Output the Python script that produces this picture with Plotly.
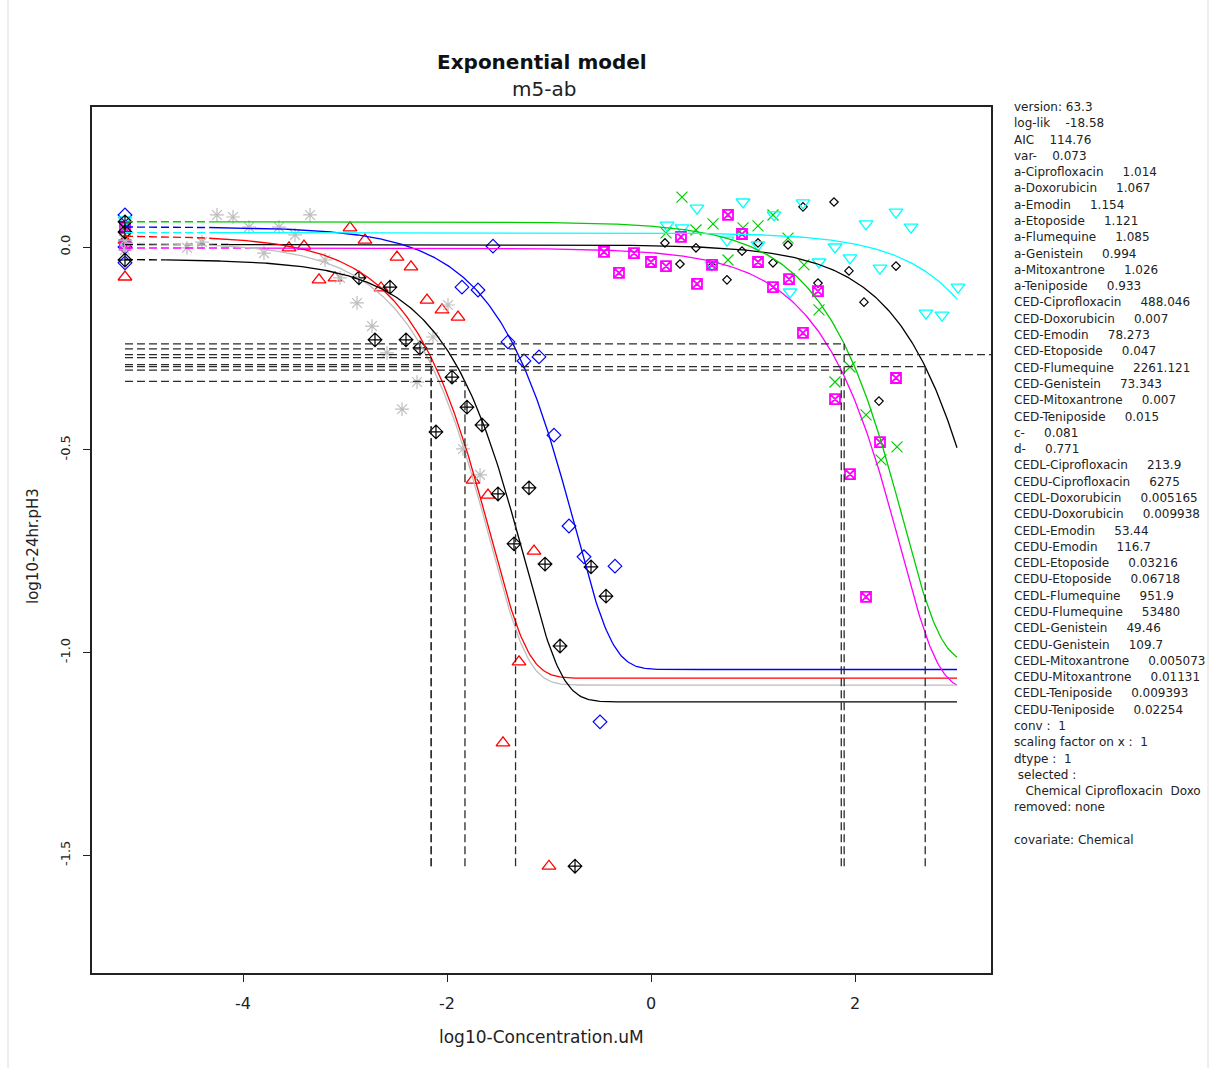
import numpy as np
import plotly.graph_objects as go

# ---------------------------------------------------------------------------
# Fitted exponential model m5-ab (PROAST style):  y = a * (c - (c-1) * exp(-b * x^d))
# plotted on log10 scales for dose and response.
# ---------------------------------------------------------------------------
chemicals = ["Ciprofloxacin", "Doxorubicin", "Emodin", "Etoposide",
             "Flumequine", "Genistein", "Mitoxantrone", "Teniposide"]
a_par = [1.014, 1.067, 1.154, 1.121, 1.085, 0.994, 1.026, 0.933]
ced_par = [488.046, 0.007, 78.273, 0.047, 2261.121, 73.343, 0.007, 0.015]
c_par = 0.081
d_par = 0.771
ces = -0.5                      # critical effect size (50 % decrease)

ctrl_pos = -5.157               # plotting position of the zero-dose group
curve_end = 3.0                 # highest tested log10 concentration
dash_end = [-4.14, -4.33, -4.33, -4.33, -4.33, -3.94, -4.33, -4.76]

# observations: log10 concentration and log10 response per chemical
cipro_x = [0.137, 0.284, 0.441, 0.598, 0.745, 0.892, 1.049, 1.196, 1.343, 1.490,
           1.637, 1.794, 1.941, 2.088, 2.235, 2.402]
cipro_y = [0.010, -0.042, -0.002, -0.047, -0.081, -0.010, 0.010, -0.039, 0.005, 0.099,
           -0.089, 0.111, -0.059, -0.136, -0.380, -0.047]
cipro_ctrl = [0.0, 0.017]

doxo_x = [-3.549, -3.402, -3.255, -3.098, -2.951, -2.804, -2.647, -2.490, -2.353,
          -2.196, -2.049, -1.892, -1.745, -1.598, -1.451, -1.294, -1.147, -1.000]
doxo_y = [-0.002, 0.002, -0.081, -0.076, 0.047, 0.017, -0.101, -0.025, -0.049,
          -0.131, -0.155, -0.173, -0.575, -0.612, -1.223, -1.023, -0.750, -1.527]
doxo_ctrl = [-0.074, 0.017]

emodin_x = [0.147, 0.304, 0.441, 0.608, 0.755, 0.902, 1.049, 1.196, 1.343, 1.500,
            1.647, 1.804, 1.951, 2.108, 2.255, 2.412]
emodin_y = [0.035, 0.123, 0.042, 0.057, -0.032, 0.047, 0.052, 0.079, 0.022, -0.044,
            -0.155, -0.333, -0.296, -0.414, -0.525, -0.493]
emodin_ctrl = [0.054, 0.042]

etopo_x = [-1.853, -1.696, -1.549, -1.402, -1.245, -1.098, -0.951, -0.804, -0.657,
           -0.500, -0.353]
etopo_y = [-0.099, -0.106, 0.002, -0.234, -0.281, -0.271, -0.464, -0.688, -0.764,
           -1.171, -0.787]
etopo_ctrl = [0.079, 0.0, -0.039]

flume_x = [0.157, 0.304, 0.451, 0.598, 0.745, 0.902, 1.049, 1.206, 1.363, 1.490,
           1.647, 1.804, 1.951, 2.108, 2.245, 2.402, 2.549, 2.696, 2.853, 3.010]
flume_y = [0.054, 0.047, 0.096, -0.044, 0.017, 0.111, 0.005, 0.079, -0.111, 0.109,
           -0.037, 0.0, -0.027, 0.057, -0.052, 0.086, 0.049, -0.163, -0.168, -0.099]
flume_ctrl = [0.067, 0.010]

genis_x = [-0.461, -0.314, -0.167, 0.0, 0.147, 0.294, 0.451, 0.598, 0.755, 0.892,
           1.049, 1.196, 1.353, 1.490, 1.637, 1.804, 1.951, 2.108, 2.245, 2.402]
genis_y = [-0.012, -0.064, -0.015, -0.037, -0.047, 0.025, -0.091, -0.044, 0.079, 0.032,
           -0.037, -0.099, -0.079, -0.212, -0.109, -0.375, -0.560, -0.863, -0.481, -0.323]
genis_ctrl = [0.047, 0.005]

mitox_x = [-4.549, -4.402, -4.255, -4.098, -3.941, -3.794, -3.647, -3.490, -3.343,
           -3.196, -3.049, -2.882, -2.735, -2.588, -2.441, -2.294, -2.137, -1.990,
           -1.843, -1.676]
mitox_y = [-0.002, 0.012, 0.079, 0.074, 0.049, -0.015, 0.049, 0.030, 0.079,
           -0.032, -0.076, -0.138, -0.195, -0.261, -0.400, -0.333, -0.222, -0.143,
           -0.498, -0.562]
mitox_ctrl = [0.017, -0.007]

tenip_x = [-2.863, -2.706, -2.559, -2.402, -2.265, -2.108, -1.951, -1.804, -1.657,
           -1.500, -1.343, -1.196, -1.039, -0.892, -0.745, -0.588, -0.441]
tenip_y = [-0.076, -0.229, -0.099, -0.229, -0.249, -0.456, -0.321, -0.395, -0.439,
           -0.609, -0.732, -0.594, -0.782, -0.984, -1.527, -0.789, -0.861]
tenip_ctrl = [0.062, 0.037, -0.032]

obs_x = [cipro_x, doxo_x, emodin_x, etopo_x, flume_x, genis_x, mitox_x, tenip_x]
obs_y = [cipro_y, doxo_y, emodin_y, etopo_y, flume_y, genis_y, mitox_y, tenip_y]
obs_ctrl = [cipro_ctrl, doxo_ctrl, emodin_ctrl, etopo_ctrl, flume_ctrl, genis_ctrl,
            mitox_ctrl, tenip_ctrl]

colors = ["#000000", "#FF0000", "#00CD00", "#0000FF", "#00FFFF", "#FF00FF",
          "#BEBEBE", "#000000"]
symbols = ["diamond-open", "triangle-up-open", "x-thin-open", "diamond-open",
           "triangle-down-open", "square-x-open", "asterisk-open", "diamond-cross-open"]
sizes = [6.5, 12, 11, 10.5, 12, 10, 11.5, 10.5]
widths = [1.2, 1.3, 1.2, 1.2, 1.3, 1.8, 1.2, 1.2]

x_ticks = [-4, -2, 0, 2]
x_ticktext = ["-4", "-2", "0", "2"]
y_ticks = [0.0, -0.5, -1.0, -1.5]
y_ticktext = ["0.0", "-0.5", "-1.0", "-1.5"]

info_lines = [
    "version: 63.3",
    "log-lik    -18.58",
    "AIC    114.76",
    "var-    0.073",
    "a-Ciprofloxacin     1.014",
    "a-Doxorubicin     1.067",
    "a-Emodin     1.154",
    "a-Etoposide     1.121",
    "a-Flumequine     1.085",
    "a-Genistein     0.994",
    "a-Mitoxantrone     1.026",
    "a-Teniposide     0.933",
    "CED-Ciprofloxacin     488.046",
    "CED-Doxorubicin     0.007",
    "CED-Emodin     78.273",
    "CED-Etoposide     0.047",
    "CED-Flumequine     2261.121",
    "CED-Genistein     73.343",
    "CED-Mitoxantrone     0.007",
    "CED-Teniposide     0.015",
    "c-     0.081",
    "d-     0.771",
    "CEDL-Ciprofloxacin     213.9",
    "CEDU-Ciprofloxacin     6275",
    "CEDL-Doxorubicin     0.005165",
    "CEDU-Doxorubicin     0.009938",
    "CEDL-Emodin     53.44",
    "CEDU-Emodin     116.7",
    "CEDL-Etoposide     0.03216",
    "CEDU-Etoposide     0.06718",
    "CEDL-Flumequine     951.9",
    "CEDU-Flumequine     53480",
    "CEDL-Genistein     49.46",
    "CEDU-Genistein     109.7",
    "CEDL-Mitoxantrone     0.005073",
    "CEDU-Mitoxantrone     0.01131",
    "CEDL-Teniposide     0.009393",
    "CEDU-Teniposide     0.02254",
    "conv :  1",
    "scaling factor on x :  1",
    "dtype :  1",
    " selected :",
    "   Chemical Ciprofloxacin  Doxo",
    "removed: none",
    "",
    "covariate: Chemical",
]

FONT = "DejaVu Sans"


def model_log10(xlog, a, ced):
    """log10 response of the m5 exponential model at log10 concentration xlog."""
    dose = 10.0 ** np.asarray(xlog)
    b = -np.log((1 + ces - c_par) / (1 - c_par)) / ced ** d_par
    return np.log10(a) + np.log10(c_par - (c_par - 1) * np.exp(-b * dose ** d_par))


fig = go.Figure()

# observations
for i, name in enumerate(chemicals):
    xs = [ctrl_pos] * len(obs_ctrl[i]) + obs_x[i]
    ys = obs_ctrl[i] + obs_y[i]
    fig.add_trace(go.Scatter(
        x=xs, y=ys, mode="markers", name=name, showlegend=False,
        marker=dict(symbol=symbols[i], size=sizes[i], color=colors[i],
                    line=dict(color=colors[i], width=widths[i])),
    ))

# fitted curves: dashed from the zero-dose position, solid over the tested range
for i, name in enumerate(chemicals):
    xd = np.linspace(ctrl_pos, dash_end[i], 40)
    xs = np.linspace(dash_end[i], curve_end, 500)
    fig.add_trace(go.Scatter(
        x=xd, y=model_log10(xd, a_par[i], ced_par[i]), mode="lines", showlegend=False,
        line=dict(color=colors[i], width=1.4, dash="8px,4px"), hoverinfo="skip",
    ))
    fig.add_trace(go.Scatter(
        x=xs, y=model_log10(xs, a_par[i], ced_par[i]), mode="lines", showlegend=False,
        line=dict(color=colors[i], width=1.3), hoverinfo="skip",
    ))

# CED reference lines (horizontal at the CES level, vertical down to the lowest observation)
y_low = min(min(v) for v in obs_y)
hx, hy = [], []
for i in range(len(chemicals)):
    xc = np.log10(ced_par[i])
    yc = float(np.log10(a_par[i]) + np.log10(1 + ces))
    hx += [ctrl_pos, xc, None, xc, xc, None]
    hy += [yc, yc, None, y_low, yc, None]
fig.add_trace(go.Scatter(
    x=hx, y=hy, mode="lines", showlegend=False, hoverinfo="skip",
    line=dict(color="#2b2b2b", width=1.3, dash="8px,4px"),
))

# layout geometry (pixels)
W, H = 1211, 1068
L, R, T, B = 92, 991, 107, 973


def px_x(p):
    return (p - L) / (R - L)


def px_y(p):
    return (B - p) / (B - T)


annotations = [
    dict(text="<b>Exponential model</b>", x=px_x(542), y=px_y(62), xref="paper",
         yref="paper", showarrow=False, xanchor="center", yanchor="middle",
         font=dict(family=FONT, size=20, color="#111")),
    dict(text="m5-ab", x=px_x(544), y=px_y(89), xref="paper", yref="paper",
         showarrow=False, xanchor="center", yanchor="middle",
         font=dict(family=FONT, size=20, color="#222")),
    dict(text="log10-Concentration.uM", x=px_x(541), y=px_y(1037), xref="paper",
         yref="paper", showarrow=False, xanchor="center", yanchor="middle",
         font=dict(family=FONT, size=17, color="#222")),
    dict(text="log10-24hr.pH3", x=px_x(33), y=px_y(546), xref="paper", yref="paper",
         showarrow=False, xanchor="center", yanchor="middle", textangle=-90,
         font=dict(family=FONT, size=15, color="#222")),
]
for k, line in enumerate(info_lines):
    if not line:
        continue
    annotations.append(dict(
        text=line.replace(" ", "\u00a0"), x=px_x(1012), y=px_y(107 + 16.29 * k),
        xref="paper", yref="paper", showarrow=False, xanchor="left", yanchor="middle",
        font=dict(family=FONT, size=12, color="#222"),
    ))

shapes = [
    dict(type="line", xref="paper", yref="paper", x0=px_x(8), x1=px_x(8),
         y0=px_y(0), y1=px_y(H), line=dict(color="#DCDCDC", width=1)),
    dict(type="line", xref="paper", yref="paper", x0=px_x(1208), x1=px_x(1208),
         y0=px_y(0), y1=px_y(H), line=dict(color="#DCDCDC", width=1)),
]

fig.update_layout(
    width=W, height=H, autosize=False,
    margin=dict(l=L, r=W - R, t=T, b=H - B, pad=0),
    paper_bgcolor="white", plot_bgcolor="white",
    annotations=annotations, shapes=shapes, showlegend=False,
    xaxis=dict(range=[(L - 651) / 102.0, (R - 651) / 102.0], tickvals=x_ticks,
               ticktext=x_ticktext, showgrid=False, zeroline=False, showline=True,
               mirror=True, linecolor="#222", linewidth=1.5, ticks="outside",
               ticklen=7, tickwidth=1.2, tickcolor="#222", ticklabelstandoff=8,
               tickfont=dict(family=FONT, size=16, color="#222")),
    yaxis=dict(range=[(247 - B) / 405.5, (247 - T) / 405.5], tickvals=y_ticks,
               ticktext=y_ticktext, tickangle=-90, showgrid=False, zeroline=False,
               showline=True, mirror=True, linecolor="#222", linewidth=1.5,
               ticks="outside", ticklen=7, tickwidth=1.2, tickcolor="#222",
               ticklabelstandoff=8, tickfont=dict(family=FONT, size=13, color="#222")),
)

fig.write_html("out.html")
